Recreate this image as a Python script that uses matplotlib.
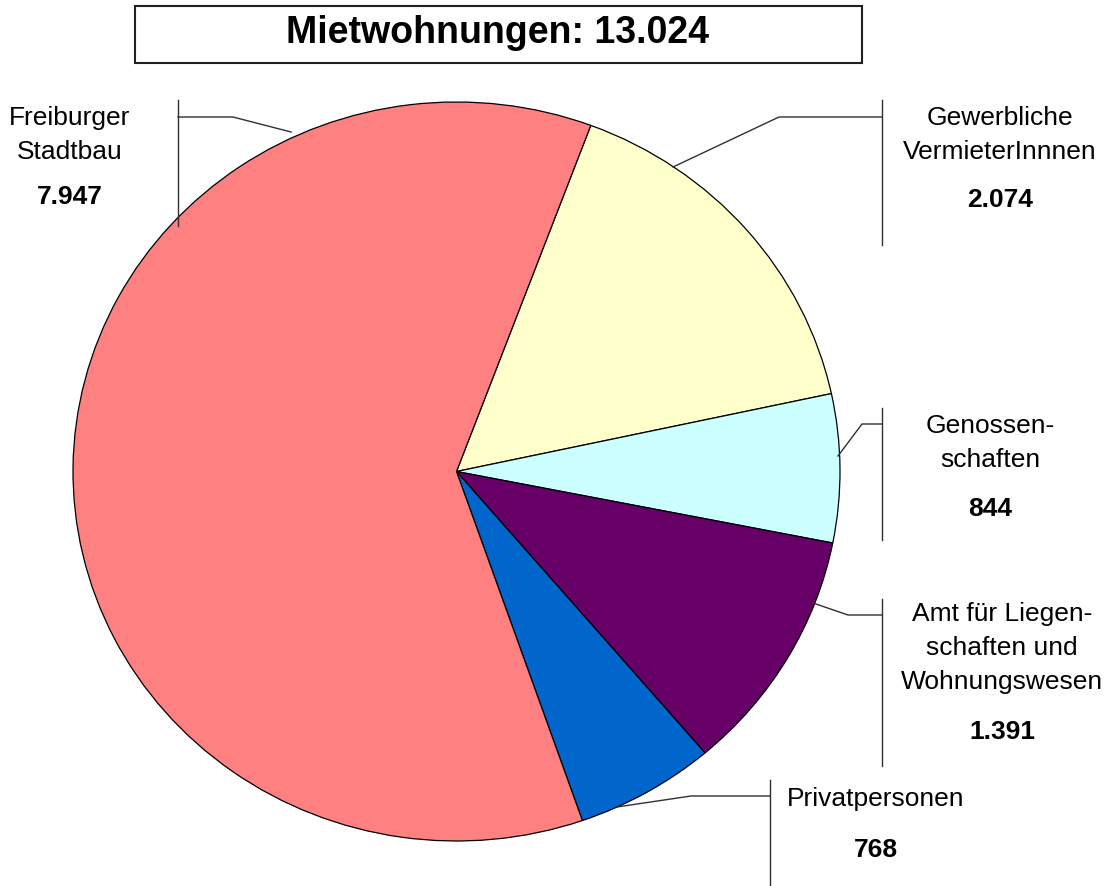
import matplotlib.pyplot as plt
from matplotlib.patches import Rectangle

plt.rcParams['font.family'] = ['Liberation Sans', 'DejaVu Sans']

# =====================================================
# DATA
# =====================================================

title = "Mietwohnungen: 13.024"
names = ["Gewerbliche\nVermieterInnnen", "Genossen-\nschaften",
         "Amt für Liegen-\nschaften und\nWohnungswesen", "Privatpersonen",
         "Freiburger\nStadtbau"]
values = [2074, 844, 1391, 768, 7947]
value_labels = ["2.074", "844", "1.391", "768", "7.947"]
colors = ["#FFFFCC", "#CCFFFF", "#660066", "#0066CC", "#FF8080"]

# =====================================================
# LAYOUT (pixel coordinates)
# =====================================================

W, H = 1105, 886
cx0, cx1 = 73, 840     # pie left / right
cy0, cy1 = 102, 841    # pie top / bottom

# label placement: (x centre, y of first line, y of value)
label_pos = [
    (1000, 118, 200),
    (990, 426, 509),
    (1002, 614, 732),
    (876, 799, 850),
    (70, 118, 197),
]
# leader lines: list of points, then vertical bar (x, y0, y1)
leaders = [
    ([(673, 167), (779, 117), (882, 117)], (882, 100, 245)),
    ([(838, 456), (862, 424), (882, 424)], (882, 408, 540)),
    ([(813, 603), (848, 615), (882, 615)], (882, 599, 766)),
    ([(617, 807), (691, 796), (770, 796)], (770, 780, 886)),
    ([(291, 132), (233, 117), (178, 117)], (178, 100, 226)),
]

fig = plt.figure(figsize=(W / 100, H / 100), dpi=100)

# pie axes (slightly elliptical, like the original)
ax_pie = fig.add_axes([cx0 / W, (H - cy1) / H, (cx1 - cx0) / W, (cy1 - cy0) / H])
ax_pie.pie(values, colors=colors, startangle=69.5, counterclock=False,
           wedgeprops=dict(edgecolor="black", linewidth=0.9), radius=1)
ax_pie.set_aspect("auto")
ax_pie.set_xlim(-1, 1)
ax_pie.set_ylim(-1, 1)
ax_pie.axis("off")

# overlay axes in pixels
ax = fig.add_axes([0, 0, 1, 1])
ax.set_xlim(0, W)
ax.set_ylim(H, 0)
ax.axis("off")

# title box
ax.add_patch(Rectangle((135, 6), 727, 57, facecolor="white",
                       edgecolor="#202020", linewidth=1.5))
ax.text(498, 33, title, ha="center", va="center", fontsize=27,
        fontweight="bold")

for name, val, (lx, ly, vy), (pts, bar) in zip(names, value_labels, label_pos, leaders):
    xs = [p[0] for p in pts]
    ys = [p[1] for p in pts]
    ax.plot(xs, ys, color="#303030", linewidth=1)
    ax.plot([bar[0], bar[0]], [bar[1], bar[2]], color="#303030", linewidth=1)
    for i, line in enumerate(name.split("\n")):
        ax.text(lx, ly + 34 * i, line, ha="center", va="center", fontsize=19)
    ax.text(lx, vy, val, ha="center", va="center", fontsize=19,
            fontweight="bold")

plt.savefig("out.png", dpi=100)
